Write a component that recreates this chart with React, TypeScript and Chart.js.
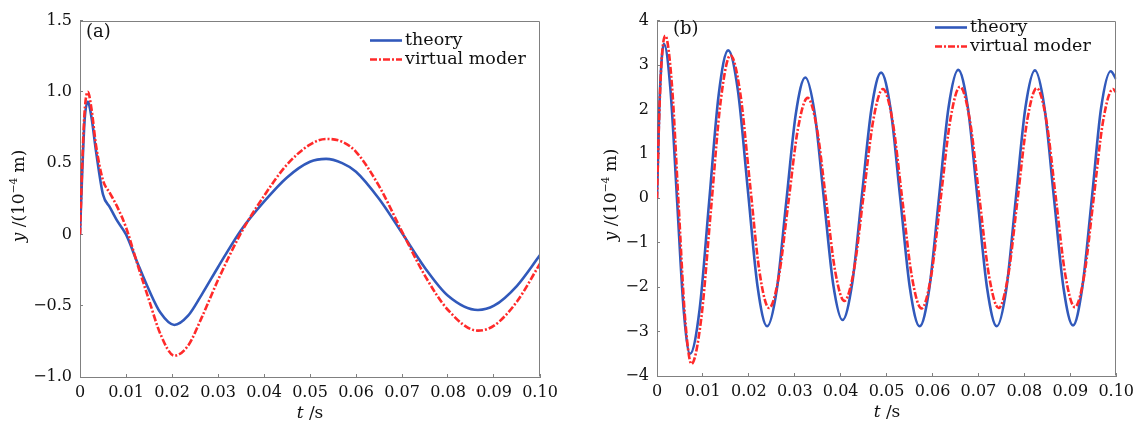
import React, { useEffect, useRef } from "react";
import { Chart, registerables } from "chart.js";

Chart.register(...registerables);

// ---------- data: panel (a) ----------
const tA = [0, 0.0005, 0.001, 0.0017, 0.0025, 0.0035, 0.005, 0.0065, 0.008, 0.01, 0.0125, 0.015, 0.0175, 0.0205, 0.0235, 0.0265, 0.03, 0.035, 0.04, 0.045, 0.05, 0.0535, 0.057, 0.06, 0.065, 0.07, 0.075, 0.08, 0.0865, 0.09, 0.095, 0.1];
const theoryA = [0, 0.45, 0.8, 0.93, 0.82, 0.58, 0.28, 0.19, 0.1, 0.0, -0.2, -0.39, -0.55, -0.635, -0.57, -0.42, -0.23, 0.03, 0.23, 0.4, 0.51, 0.53, 0.5, 0.44, 0.25, 0.01, -0.235, -0.43, -0.53, -0.5, -0.36, -0.145];
const modelA = [0, 0.5, 0.86, 1.0, 0.88, 0.62, 0.38, 0.29, 0.2, 0.05, -0.21, -0.46, -0.7, -0.85, -0.78, -0.58, -0.32, 0.01, 0.27, 0.49, 0.63, 0.67, 0.65, 0.58, 0.34, 0.02, -0.29, -0.53, -0.675, -0.64, -0.47, -0.205];

// ---------- data: panel (b) ----------
const tB_theory = [0, 0.0005, 0.001, 0.0015, 0.00293, 0.00435, 0.00578, 0.0072, 0.00928, 0.01135, 0.01343, 0.0155, 0.01763, 0.01975, 0.02188, 0.024, 0.02608, 0.02815, 0.03023, 0.0323, 0.03433, 0.03635, 0.03838, 0.0404, 0.0425, 0.0446, 0.0467, 0.0488, 0.0509, 0.053, 0.0551, 0.0572, 0.0593, 0.0614, 0.0635, 0.0656, 0.0677, 0.0698, 0.0719, 0.074, 0.07608, 0.07815, 0.08023, 0.0823, 0.08438, 0.08645, 0.08853, 0.0906, 0.0926, 0.0947, 0.0967, 0.0988, 0.1];
const theoryB = [0, 2.0, 3.1, 3.48, 2.45, 0.0, -2.47, -3.5, -2.5, -0.085, 2.33, 3.33, 2.42, 0.225, -1.97, -2.88, -2.06, -0.08, 1.9, 2.72, 1.92, -0.01, -1.94, -2.74, -1.92, 0.045, 2.01, 2.83, 1.99, -0.025, -2.04, -2.88, -2.03, 0.005, 2.05, 2.89, 2.04, 0.0, -2.03, -2.88, -2.04, 0.0, 2.04, 2.88, 2.04, 0.01, -2.02, -2.86, -2.02, 0.0, 2.02, 2.86, 2.68];
const tB_model = [0, 0.0005, 0.001, 0.0018, 0.00323, 0.00465, 0.00608, 0.0075, 0.00963, 0.01175, 0.01388, 0.016, 0.0181, 0.0202, 0.0223, 0.0244, 0.0265, 0.0286, 0.0307, 0.0328, 0.0348, 0.0368, 0.0388, 0.0408, 0.0429, 0.045, 0.0471, 0.0492, 0.0513, 0.0534, 0.0555, 0.0576, 0.0597, 0.0618, 0.0639, 0.066, 0.0681, 0.0702, 0.0723, 0.0744, 0.07648, 0.07855, 0.08063, 0.0827, 0.08478, 0.08685, 0.08893, 0.091, 0.09305, 0.0951, 0.09715, 0.0993, 0.1];
const modelB = [0, 1.9, 3.1, 3.66, 2.58, -0.035, -2.65, -3.73, -2.71, -0.255, 2.2, 3.22, 2.39, 0.375, -1.64, -2.47, -1.78, -0.105, 1.57, 2.26, 1.59, -0.025, -1.64, -2.31, -1.61, 0.075, 1.76, 2.46, 1.74, -0.01, -1.76, -2.48, -1.75, 0.015, 1.78, 2.51, 1.78, 0.02, -1.74, -2.47, -1.74, 0.005, 1.76, 2.48, 1.76, 0.015, -1.73, -2.45, -1.73, 0.005, 1.74, 2.46, 2.38];

// ---------- ticks ----------
const xTickValues = [0, 0.01, 0.02, 0.03, 0.04, 0.05, 0.06, 0.07, 0.08, 0.09, 0.1];
const xTickLabels = ["0", "0.01", "0.02", "0.03", "0.04", "0.05", "0.06", "0.07", "0.08", "0.09", "0.10"];
const yTickValuesA = [-1, -0.5, 0, 0.5, 1, 1.5];
const yTickLabelsA = ["\u22121.0", "\u22120.5", "0", "0.5", "1.0", "1.5"];
const yTickValuesB = [-4, -3, -2, -1, 0, 1, 2, 3, 4];
const yTickLabelsB = ["\u22124", "\u22123", "\u22122", "\u22121", "0", "1", "2", "3", "4"];

const seriesLabels = ["theory", "virtual moder"];

const BLUE = "#3159bb";
const RED = "#ff2a2a";
const AXIS = "#808080";
const TEXT = "#111";
const FONT = '"DejaVu Serif", serif';

const pts = (ts: number[], ys: number[]) => ts.map((t, i) => ({ x: t, y: ys[i] }));

const decorPlugin = {
  id: "decor",
  afterDraw(chart: any, _args: any, o: any) {
    const ctx = chart.ctx as CanvasRenderingContext2D;
    const ca = chart.chartArea;
    ctx.save();
    // frame top/right
    ctx.strokeStyle = AXIS;
    ctx.lineWidth = 1;
    ctx.beginPath();
    ctx.moveTo(Math.round(ca.left) + 0.5, Math.round(ca.top) + 0.5);
    ctx.lineTo(Math.round(ca.right) - 0.5, Math.round(ca.top) + 0.5);
    ctx.lineTo(Math.round(ca.right) - 0.5, Math.round(ca.bottom) - 0.5);
    ctx.stroke();

    // panel label
    ctx.fillStyle = TEXT;
    ctx.textBaseline = "middle";
    ctx.textAlign = "left";
    ctx.font = `18px ${FONT}`;
    ctx.fillText(o.panel, o.panelX, o.panelY);

    // legend
    ctx.font = `17.5px ${FONT}`;
    chart.data.datasets.forEach((d: any, i: number) => {
      const y = o.legendY + i * o.legendGap;
      ctx.strokeStyle = d.borderColor;
      ctx.lineWidth = d.borderWidth;
      ctx.setLineDash(d.borderDash || []);
      ctx.beginPath();
      ctx.moveTo(o.legendX, y);
      ctx.lineTo(o.legendX + o.swatch, y);
      ctx.stroke();
      ctx.setLineDash([]);
      ctx.fillStyle = TEXT;
      ctx.fillText(d.label, o.legendX + o.swatch + 3, y);
    });

    // axis titles
    const drawPieces = (pieces: any[], size: number) => {
      const widths = pieces.map((p) => {
        ctx.font = `${p.italic ? "italic " : ""}${p.sup ? size * 0.62 : size}px ${FONT}`;
        return ctx.measureText(p.t).width;
      });
      const total = widths.reduce((a, b) => a + b, 0);
      let x = -total / 2;
      pieces.forEach((p, i) => {
        ctx.font = `${p.italic ? "italic " : ""}${p.sup ? size * 0.62 : size}px ${FONT}`;
        ctx.fillText(p.t, x, p.sup ? -size * 0.35 : 0);
        x += widths[i];
      });
    };
    ctx.fillStyle = TEXT;
    ctx.textAlign = "left";
    ctx.textBaseline = "middle";
    ctx.save();
    ctx.translate(o.xTitleX, o.xTitleY);
    drawPieces([{ t: "t", italic: true }, { t: " /s" }], 17);
    ctx.restore();
    ctx.save();
    ctx.translate(o.yTitleX, o.yTitleY);
    ctx.rotate(-Math.PI / 2);
    drawPieces([{ t: "y", italic: true }, { t: " /(10" }, { t: "\u22124", sup: true }, { t: " m)" }], 17);
    ctx.restore();
    ctx.restore();
  },
};

function makeConfig(p: any): any {
  const tickFont = { family: FONT, size: 16 };
  return {
    type: "line",
    data: {
      datasets: [
        {
          label: seriesLabels[0],
          data: pts(p.tTheory, p.theory),
          borderColor: BLUE,
          borderWidth: 2.6,
          pointRadius: 0,
          cubicInterpolationMode: "monotone",
          fill: false,
          order: 1,
        },
        {
          label: seriesLabels[1],
          data: pts(p.tModel, p.model),
          borderColor: RED,
          borderWidth: 2.6,
          borderDash: [7, 2, 2, 2],
          pointRadius: 0,
          cubicInterpolationMode: "monotone",
          fill: false,
          order: 0,
        },
      ],
    },
    options: {
      animation: false,
      responsive: false,
      maintainAspectRatio: false,
      devicePixelRatio: 1,
      events: [],
      layout: { padding: { top: p.padTop, right: p.padRight, left: 0, bottom: 0 } },
      plugins: {
        legend: { display: false },
        tooltip: { enabled: false },
        decor: p.decor,
      },
      scales: {
        x: {
          type: "linear",
          min: 0,
          max: 0.1,
          afterFit: (s: any) => {
            s.height = p.xH;
          },
          afterBuildTicks: (s: any) => {
            s.ticks = xTickValues.map((v) => ({ value: v }));
          },
          ticks: {
            callback: (_v: any, i: number) => xTickLabels[i],
            font: tickFont,
            color: TEXT,
            padding: 9,
            maxRotation: 0,
            autoSkip: false,
          },
          grid: { drawOnChartArea: false, tickLength: -3, color: AXIS, lineWidth: 1 },
          border: { color: AXIS, width: 1 },
        },
        y: {
          type: "linear",
          min: p.yMin,
          max: p.yMax,
          afterFit: (s: any) => {
            s.width = p.yW;
          },
          afterBuildTicks: (s: any) => {
            s.ticks = p.yTicks.map((v: number) => ({ value: v }));
          },
          ticks: {
            callback: (_v: any, i: number) => p.yLabels[i],
            font: tickFont,
            color: TEXT,
            padding: 11,
            autoSkip: false,
          },
          grid: { drawOnChartArea: false, tickLength: -3, color: AXIS, lineWidth: 1 },
          border: { color: AXIS, width: 1 },
        },
      },
    },
    plugins: [decorPlugin],
  };
}

export default function App() {
  const refA = useRef<HTMLCanvasElement>(null);
  const refB = useRef<HTMLCanvasElement>(null);

  useEffect(() => {
    const a = new Chart(
      refA.current!,
      makeConfig({
        tTheory: tA,
        theory: theoryA,
        tModel: tA,
        model: modelA,
        yMin: -1,
        yMax: 1.5,
        yTicks: yTickValuesA,
        yLabels: yTickLabelsA,
        yW: 80,
        xH: 49,
        padTop: 15,
        padRight: 30,
        decor: {
          panel: "(a)",
          panelX: 86,
          panelY: 32,
          legendX: 370,
          legendY: 40.5,
          legendGap: 19,
          swatch: 32,
          xTitleX: 310,
          xTitleY: 414,
          yTitleX: 20,
          yTitleY: 196,
        },
      })
    );
    const b = new Chart(
      refB.current!,
      makeConfig({
        tTheory: tB_theory,
        theory: theoryB,
        tModel: tB_model,
        model: modelB,
        yMin: -4,
        yMax: 4,
        yTicks: yTickValuesB,
        yLabels: yTickLabelsB,
        yW: 87,
        xH: 50,
        padTop: 14,
        padRight: 26,
        decor: {
          panel: "(b)",
          panelX: 103,
          panelY: 29,
          legendX: 365,
          legendY: 27.5,
          legendGap: 19,
          swatch: 32,
          xTitleX: 317,
          xTitleY: 413,
          yTitleX: 42,
          yTitleY: 195,
        },
      })
    );
    return () => {
      a.destroy();
      b.destroy();
    };
  }, []);

  return (
    <div style={{ position: "absolute", left: 0, top: 0, width: 1143, height: 426, background: "#fff" }}>
      <canvas
        ref={refA}
        width={570}
        height={426}
        style={{ position: "absolute", left: 0, top: 0, width: 570, height: 426 }}
      />
      <canvas
        ref={refB}
        width={573}
        height={426}
        style={{ position: "absolute", left: 570, top: 0, width: 573, height: 426 }}
      />
    </div>
  );
}
